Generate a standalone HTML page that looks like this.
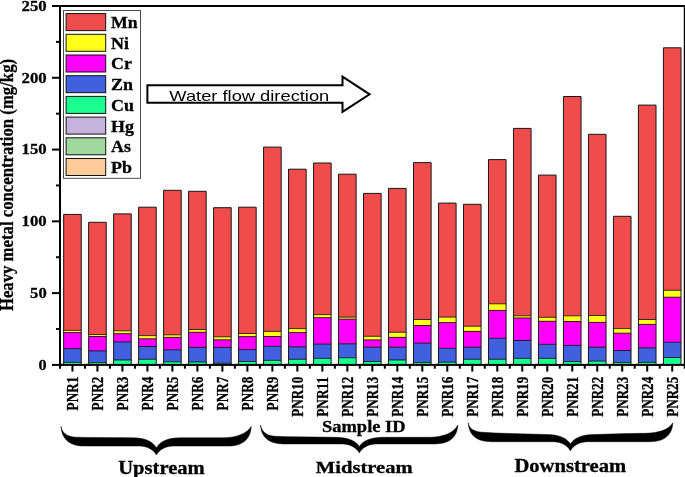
<!DOCTYPE html>
<html><head><meta charset="utf-8"><title>Heavy metal concentration</title>
<style>html,body{margin:0;padding:0;background:#fff}svg{display:block}text{fill:#000}.s{font-family:"Liberation Serif",serif;font-weight:bold;stroke:#000;stroke-width:0.3px}.h{font-family:"Liberation Sans",sans-serif}</style></head><body>
<svg width="685" height="477" viewBox="0 0 685 477">
<rect x="0" y="0" width="685" height="477" fill="#fff"/>
<g><rect x="63.65" y="214.40" width="17.60" height="116.00" fill="#F14C4C"/><rect x="63.65" y="330.40" width="17.60" height="2.20" fill="#FFFF1A"/><rect x="63.65" y="332.60" width="17.60" height="16.10" fill="#FF00FF"/><rect x="63.65" y="348.70" width="17.60" height="13.70" fill="#4060E0"/><rect x="63.65" y="362.40" width="17.60" height="2.50" fill="#1AFF90"/><rect x="61.05" y="362.9" width="2.1" height="1.1" fill="#FFCC99"/><rect x="88.64" y="222.30" width="17.60" height="112.20" fill="#F14C4C"/><rect x="88.64" y="334.50" width="17.60" height="2.00" fill="#FFFF1A"/><rect x="88.64" y="336.50" width="17.60" height="14.40" fill="#FF00FF"/><rect x="88.64" y="350.90" width="17.60" height="11.80" fill="#4060E0"/><rect x="88.64" y="362.70" width="17.60" height="2.20" fill="#1AFF90"/><rect x="86.04" y="362.9" width="2.1" height="1.1" fill="#FFCC99"/><rect x="113.63" y="213.90" width="17.60" height="116.90" fill="#F14C4C"/><rect x="113.63" y="330.80" width="17.60" height="2.90" fill="#FFFF1A"/><rect x="113.63" y="333.70" width="17.60" height="8.20" fill="#FF00FF"/><rect x="113.63" y="341.90" width="17.60" height="18.10" fill="#4060E0"/><rect x="113.63" y="360.00" width="17.60" height="4.90" fill="#1AFF90"/><rect x="111.03" y="362.9" width="2.1" height="1.1" fill="#FFCC99"/><rect x="138.62" y="207.20" width="17.60" height="128.40" fill="#F14C4C"/><rect x="138.62" y="335.60" width="17.60" height="3.20" fill="#FFFF1A"/><rect x="138.62" y="338.80" width="17.60" height="7.70" fill="#FF00FF"/><rect x="138.62" y="346.50" width="17.60" height="12.80" fill="#4060E0"/><rect x="138.62" y="359.30" width="17.60" height="5.60" fill="#1AFF90"/><rect x="136.02" y="362.9" width="2.1" height="1.1" fill="#FFCC99"/><rect x="163.61" y="190.30" width="17.60" height="144.50" fill="#F14C4C"/><rect x="163.61" y="334.80" width="17.60" height="2.60" fill="#FFFF1A"/><rect x="163.61" y="337.40" width="17.60" height="12.40" fill="#FF00FF"/><rect x="163.61" y="349.80" width="17.60" height="12.00" fill="#4060E0"/><rect x="163.61" y="361.80" width="17.60" height="3.10" fill="#1AFF90"/><rect x="161.01" y="362.9" width="2.1" height="1.1" fill="#FFCC99"/><rect x="188.60" y="191.30" width="17.60" height="138.20" fill="#F14C4C"/><rect x="188.60" y="329.50" width="17.60" height="2.80" fill="#FFFF1A"/><rect x="188.60" y="332.30" width="17.60" height="15.10" fill="#FF00FF"/><rect x="188.60" y="347.40" width="17.60" height="14.60" fill="#4060E0"/><rect x="188.60" y="362.00" width="17.60" height="2.90" fill="#1AFF90"/><rect x="186.00" y="362.9" width="2.1" height="1.1" fill="#FFCC99"/><rect x="213.59" y="207.70" width="17.60" height="129.10" fill="#F14C4C"/><rect x="213.59" y="336.80" width="17.60" height="3.00" fill="#FFFF1A"/><rect x="213.59" y="339.80" width="17.60" height="7.60" fill="#FF00FF"/><rect x="213.59" y="347.40" width="17.60" height="15.90" fill="#4060E0"/><rect x="213.59" y="363.30" width="17.60" height="1.60" fill="#1AFF90"/><rect x="210.99" y="362.9" width="2.1" height="1.1" fill="#FFCC99"/><rect x="238.58" y="207.20" width="17.60" height="126.30" fill="#F14C4C"/><rect x="238.58" y="333.50" width="17.60" height="3.10" fill="#FFFF1A"/><rect x="238.58" y="336.60" width="17.60" height="13.00" fill="#FF00FF"/><rect x="238.58" y="349.60" width="17.60" height="11.90" fill="#4060E0"/><rect x="238.58" y="361.50" width="17.60" height="3.40" fill="#1AFF90"/><rect x="235.98" y="362.9" width="2.1" height="1.1" fill="#FFCC99"/><rect x="263.57" y="147.10" width="17.60" height="184.30" fill="#F14C4C"/><rect x="263.57" y="331.40" width="17.60" height="5.10" fill="#FFFF1A"/><rect x="263.57" y="336.50" width="17.60" height="9.80" fill="#FF00FF"/><rect x="263.57" y="346.30" width="17.60" height="14.10" fill="#4060E0"/><rect x="263.57" y="360.40" width="17.60" height="4.50" fill="#1AFF90"/><rect x="260.97" y="362.9" width="2.1" height="1.1" fill="#FFCC99"/><rect x="288.56" y="169.20" width="17.60" height="159.40" fill="#F14C4C"/><rect x="288.56" y="328.60" width="17.60" height="4.00" fill="#FFFF1A"/><rect x="288.56" y="332.60" width="17.60" height="14.30" fill="#FF00FF"/><rect x="288.56" y="346.90" width="17.60" height="12.40" fill="#4060E0"/><rect x="288.56" y="359.30" width="17.60" height="5.60" fill="#1AFF90"/><rect x="285.96" y="362.9" width="2.1" height="1.1" fill="#FFCC99"/><rect x="313.55" y="163.00" width="17.60" height="151.60" fill="#F14C4C"/><rect x="313.55" y="314.60" width="17.60" height="3.10" fill="#FFFF1A"/><rect x="313.55" y="317.70" width="17.60" height="26.40" fill="#FF00FF"/><rect x="313.55" y="344.10" width="17.60" height="14.30" fill="#4060E0"/><rect x="313.55" y="358.40" width="17.60" height="6.50" fill="#1AFF90"/><rect x="310.95" y="362.9" width="2.1" height="1.1" fill="#FFCC99"/><rect x="338.54" y="174.20" width="17.60" height="142.90" fill="#F14C4C"/><rect x="338.54" y="317.10" width="17.60" height="2.00" fill="#FFFF1A"/><rect x="338.54" y="319.10" width="17.60" height="24.70" fill="#FF00FF"/><rect x="338.54" y="343.80" width="17.60" height="14.00" fill="#4060E0"/><rect x="338.54" y="357.80" width="17.60" height="7.10" fill="#1AFF90"/><rect x="335.94" y="362.9" width="2.1" height="1.1" fill="#FFCC99"/><rect x="363.53" y="193.40" width="17.60" height="142.90" fill="#F14C4C"/><rect x="363.53" y="336.30" width="17.60" height="3.60" fill="#FFFF1A"/><rect x="363.53" y="339.90" width="17.60" height="7.30" fill="#FF00FF"/><rect x="363.53" y="347.20" width="17.60" height="14.30" fill="#4060E0"/><rect x="363.53" y="361.50" width="17.60" height="3.40" fill="#1AFF90"/><rect x="360.93" y="362.9" width="2.1" height="1.1" fill="#FFCC99"/><rect x="388.52" y="188.40" width="17.60" height="143.90" fill="#F14C4C"/><rect x="388.52" y="332.30" width="17.60" height="5.10" fill="#FFFF1A"/><rect x="388.52" y="337.40" width="17.60" height="9.80" fill="#FF00FF"/><rect x="388.52" y="347.20" width="17.60" height="12.80" fill="#4060E0"/><rect x="388.52" y="360.00" width="17.60" height="4.90" fill="#1AFF90"/><rect x="385.92" y="362.9" width="2.1" height="1.1" fill="#FFCC99"/><rect x="413.51" y="162.60" width="17.60" height="156.90" fill="#F14C4C"/><rect x="413.51" y="319.50" width="17.60" height="6.00" fill="#FFFF1A"/><rect x="413.51" y="325.50" width="17.60" height="17.70" fill="#FF00FF"/><rect x="413.51" y="343.20" width="17.60" height="19.40" fill="#4060E0"/><rect x="413.51" y="362.60" width="17.60" height="2.30" fill="#1AFF90"/><rect x="410.91" y="362.9" width="2.1" height="1.1" fill="#FFCC99"/><rect x="438.50" y="203.10" width="17.60" height="114.00" fill="#F14C4C"/><rect x="438.50" y="317.10" width="17.60" height="5.50" fill="#FFFF1A"/><rect x="438.50" y="322.60" width="17.60" height="25.70" fill="#FF00FF"/><rect x="438.50" y="348.30" width="17.60" height="13.90" fill="#4060E0"/><rect x="438.50" y="362.20" width="17.60" height="2.70" fill="#1AFF90"/><rect x="435.90" y="362.9" width="2.1" height="1.1" fill="#FFCC99"/><rect x="463.49" y="204.30" width="17.60" height="121.90" fill="#F14C4C"/><rect x="463.49" y="326.20" width="17.60" height="5.20" fill="#FFFF1A"/><rect x="463.49" y="331.40" width="17.60" height="15.80" fill="#FF00FF"/><rect x="463.49" y="347.20" width="17.60" height="12.10" fill="#4060E0"/><rect x="463.49" y="359.30" width="17.60" height="5.60" fill="#1AFF90"/><rect x="460.89" y="362.9" width="2.1" height="1.1" fill="#FFCC99"/><rect x="488.48" y="159.60" width="17.60" height="144.20" fill="#F14C4C"/><rect x="488.48" y="303.80" width="17.60" height="6.60" fill="#FFFF1A"/><rect x="488.48" y="310.40" width="17.60" height="27.90" fill="#FF00FF"/><rect x="488.48" y="338.30" width="17.60" height="21.00" fill="#4060E0"/><rect x="488.48" y="359.30" width="17.60" height="5.60" fill="#1AFF90"/><rect x="485.88" y="362.9" width="2.1" height="1.1" fill="#FFCC99"/><rect x="513.47" y="128.40" width="17.60" height="187.40" fill="#F14C4C"/><rect x="513.47" y="315.80" width="17.60" height="2.20" fill="#FFFF1A"/><rect x="513.47" y="318.00" width="17.60" height="22.50" fill="#FF00FF"/><rect x="513.47" y="340.50" width="17.60" height="17.90" fill="#4060E0"/><rect x="513.47" y="358.40" width="17.60" height="6.50" fill="#1AFF90"/><rect x="510.87" y="362.9" width="2.1" height="1.1" fill="#FFCC99"/><rect x="538.46" y="175.10" width="17.60" height="142.20" fill="#F14C4C"/><rect x="538.46" y="317.30" width="17.60" height="4.00" fill="#FFFF1A"/><rect x="538.46" y="321.30" width="17.60" height="23.00" fill="#FF00FF"/><rect x="538.46" y="344.30" width="17.60" height="14.10" fill="#4060E0"/><rect x="538.46" y="358.40" width="17.60" height="6.50" fill="#1AFF90"/><rect x="535.86" y="362.9" width="2.1" height="1.1" fill="#FFCC99"/><rect x="563.45" y="96.50" width="17.60" height="219.30" fill="#F14C4C"/><rect x="563.45" y="315.80" width="17.60" height="5.70" fill="#FFFF1A"/><rect x="563.45" y="321.50" width="17.60" height="23.90" fill="#FF00FF"/><rect x="563.45" y="345.40" width="17.60" height="16.20" fill="#4060E0"/><rect x="563.45" y="361.60" width="17.60" height="3.30" fill="#1AFF90"/><rect x="560.85" y="362.9" width="2.1" height="1.1" fill="#FFCC99"/><rect x="588.44" y="134.30" width="17.60" height="181.20" fill="#F14C4C"/><rect x="588.44" y="315.50" width="17.60" height="6.90" fill="#FFFF1A"/><rect x="588.44" y="322.40" width="17.60" height="24.80" fill="#FF00FF"/><rect x="588.44" y="347.20" width="17.60" height="13.90" fill="#4060E0"/><rect x="588.44" y="361.10" width="17.60" height="3.80" fill="#1AFF90"/><rect x="585.84" y="362.9" width="2.1" height="1.1" fill="#FFCC99"/><rect x="613.43" y="216.30" width="17.60" height="112.30" fill="#F14C4C"/><rect x="613.43" y="328.60" width="17.60" height="4.60" fill="#FFFF1A"/><rect x="613.43" y="333.20" width="17.60" height="17.30" fill="#FF00FF"/><rect x="613.43" y="350.50" width="17.60" height="12.10" fill="#4060E0"/><rect x="613.43" y="362.60" width="17.60" height="2.30" fill="#1AFF90"/><rect x="610.83" y="362.9" width="2.1" height="1.1" fill="#FFCC99"/><rect x="638.42" y="105.10" width="17.60" height="214.40" fill="#F14C4C"/><rect x="638.42" y="319.50" width="17.60" height="4.90" fill="#FFFF1A"/><rect x="638.42" y="324.40" width="17.60" height="23.40" fill="#FF00FF"/><rect x="638.42" y="347.80" width="17.60" height="14.60" fill="#4060E0"/><rect x="638.42" y="362.40" width="17.60" height="2.50" fill="#1AFF90"/><rect x="635.82" y="362.9" width="2.1" height="1.1" fill="#FFCC99"/><rect x="663.41" y="47.80" width="17.60" height="242.50" fill="#F14C4C"/><rect x="663.41" y="290.30" width="17.60" height="6.90" fill="#FFFF1A"/><rect x="663.41" y="297.20" width="17.60" height="45.10" fill="#FF00FF"/><rect x="663.41" y="342.30" width="17.60" height="15.20" fill="#4060E0"/><rect x="663.41" y="357.50" width="17.60" height="7.40" fill="#1AFF90"/><rect x="660.81" y="362.9" width="2.1" height="1.1" fill="#FFCC99"/></g>
<path d="M63.65,330.40h17.60M63.65,332.60h17.60M63.65,348.70h17.60M63.65,362.40h17.60M88.64,334.50h17.60M88.64,336.50h17.60M88.64,350.90h17.60M88.64,362.70h17.60M113.63,330.80h17.60M113.63,333.70h17.60M113.63,341.90h17.60M113.63,360.00h17.60M138.62,335.60h17.60M138.62,338.80h17.60M138.62,346.50h17.60M138.62,359.30h17.60M163.61,334.80h17.60M163.61,337.40h17.60M163.61,349.80h17.60M163.61,361.80h17.60M188.60,329.50h17.60M188.60,332.30h17.60M188.60,347.40h17.60M188.60,362.00h17.60M213.59,336.80h17.60M213.59,339.80h17.60M213.59,347.40h17.60M213.59,363.30h17.60M238.58,333.50h17.60M238.58,336.60h17.60M238.58,349.60h17.60M238.58,361.50h17.60M263.57,331.40h17.60M263.57,336.50h17.60M263.57,346.30h17.60M263.57,360.40h17.60M288.56,328.60h17.60M288.56,332.60h17.60M288.56,346.90h17.60M288.56,359.30h17.60M313.55,314.60h17.60M313.55,317.70h17.60M313.55,344.10h17.60M313.55,358.40h17.60M338.54,317.10h17.60M338.54,319.10h17.60M338.54,343.80h17.60M338.54,357.80h17.60M363.53,336.30h17.60M363.53,339.90h17.60M363.53,347.20h17.60M363.53,361.50h17.60M388.52,332.30h17.60M388.52,337.40h17.60M388.52,347.20h17.60M388.52,360.00h17.60M413.51,319.50h17.60M413.51,325.50h17.60M413.51,343.20h17.60M413.51,362.60h17.60M438.50,317.10h17.60M438.50,322.60h17.60M438.50,348.30h17.60M438.50,362.20h17.60M463.49,326.20h17.60M463.49,331.40h17.60M463.49,347.20h17.60M463.49,359.30h17.60M488.48,303.80h17.60M488.48,310.40h17.60M488.48,338.30h17.60M488.48,359.30h17.60M513.47,315.80h17.60M513.47,318.00h17.60M513.47,340.50h17.60M513.47,358.40h17.60M538.46,317.30h17.60M538.46,321.30h17.60M538.46,344.30h17.60M538.46,358.40h17.60M563.45,315.80h17.60M563.45,321.50h17.60M563.45,345.40h17.60M563.45,361.60h17.60M588.44,315.50h17.60M588.44,322.40h17.60M588.44,347.20h17.60M588.44,361.10h17.60M613.43,328.60h17.60M613.43,333.20h17.60M613.43,350.50h17.60M613.43,362.60h17.60M638.42,319.50h17.60M638.42,324.40h17.60M638.42,347.80h17.60M638.42,362.40h17.60M663.41,290.30h17.60M663.41,297.20h17.60M663.41,342.30h17.60M663.41,357.50h17.60" fill="none" stroke="#000" stroke-width="0.8"/>
<path d="M63.65,364.9V214.40h17.60V364.9M88.64,364.9V222.30h17.60V364.9M113.63,364.9V213.90h17.60V364.9M138.62,364.9V207.20h17.60V364.9M163.61,364.9V190.30h17.60V364.9M188.60,364.9V191.30h17.60V364.9M213.59,364.9V207.70h17.60V364.9M238.58,364.9V207.20h17.60V364.9M263.57,364.9V147.10h17.60V364.9M288.56,364.9V169.20h17.60V364.9M313.55,364.9V163.00h17.60V364.9M338.54,364.9V174.20h17.60V364.9M363.53,364.9V193.40h17.60V364.9M388.52,364.9V188.40h17.60V364.9M413.51,364.9V162.60h17.60V364.9M438.50,364.9V203.10h17.60V364.9M463.49,364.9V204.30h17.60V364.9M488.48,364.9V159.60h17.60V364.9M513.47,364.9V128.40h17.60V364.9M538.46,364.9V175.10h17.60V364.9M563.45,364.9V96.50h17.60V364.9M588.44,364.9V134.30h17.60V364.9M613.43,364.9V216.30h17.60V364.9M638.42,364.9V105.10h17.60V364.9M663.41,364.9V47.80h17.60V364.9" fill="none" stroke="#161616" stroke-width="1" stroke-linejoin="round"/>
<rect x="60.0" y="6.0" width="624.80" height="358.90" fill="none" stroke="#000" stroke-width="2"/>
<g stroke="#000" stroke-width="2">
<line x1="52.0" y1="364.90" x2="60.0" y2="364.90"/>
<line x1="56.0" y1="329.01" x2="60.0" y2="329.01"/>
<line x1="52.0" y1="293.12" x2="60.0" y2="293.12"/>
<line x1="56.0" y1="257.23" x2="60.0" y2="257.23"/>
<line x1="52.0" y1="221.34" x2="60.0" y2="221.34"/>
<line x1="56.0" y1="185.45" x2="60.0" y2="185.45"/>
<line x1="52.0" y1="149.56" x2="60.0" y2="149.56"/>
<line x1="56.0" y1="113.67" x2="60.0" y2="113.67"/>
<line x1="52.0" y1="77.78" x2="60.0" y2="77.78"/>
<line x1="56.0" y1="41.89" x2="60.0" y2="41.89"/>
<line x1="52.0" y1="6.00" x2="60.0" y2="6.00"/>
<line x1="72.45" y1="364.9" x2="72.45" y2="371.6"/>
<line x1="84.95" y1="364.9" x2="84.95" y2="368.7"/>
<line x1="97.44" y1="364.9" x2="97.44" y2="371.6"/>
<line x1="109.94" y1="364.9" x2="109.94" y2="368.7"/>
<line x1="122.43" y1="364.9" x2="122.43" y2="371.6"/>
<line x1="134.93" y1="364.9" x2="134.93" y2="368.7"/>
<line x1="147.42" y1="364.9" x2="147.42" y2="371.6"/>
<line x1="159.92" y1="364.9" x2="159.92" y2="368.7"/>
<line x1="172.41" y1="364.9" x2="172.41" y2="371.6"/>
<line x1="184.91" y1="364.9" x2="184.91" y2="368.7"/>
<line x1="197.40" y1="364.9" x2="197.40" y2="371.6"/>
<line x1="209.89" y1="364.9" x2="209.89" y2="368.7"/>
<line x1="222.39" y1="364.9" x2="222.39" y2="371.6"/>
<line x1="234.88" y1="364.9" x2="234.88" y2="368.7"/>
<line x1="247.38" y1="364.9" x2="247.38" y2="371.6"/>
<line x1="259.88" y1="364.9" x2="259.88" y2="368.7"/>
<line x1="272.37" y1="364.9" x2="272.37" y2="371.6"/>
<line x1="284.87" y1="364.9" x2="284.87" y2="368.7"/>
<line x1="297.36" y1="364.9" x2="297.36" y2="371.6"/>
<line x1="309.86" y1="364.9" x2="309.86" y2="368.7"/>
<line x1="322.35" y1="364.9" x2="322.35" y2="371.6"/>
<line x1="334.84" y1="364.9" x2="334.84" y2="368.7"/>
<line x1="347.34" y1="364.9" x2="347.34" y2="371.6"/>
<line x1="359.83" y1="364.9" x2="359.83" y2="368.7"/>
<line x1="372.33" y1="364.9" x2="372.33" y2="371.6"/>
<line x1="384.82" y1="364.9" x2="384.82" y2="368.7"/>
<line x1="397.32" y1="364.9" x2="397.32" y2="371.6"/>
<line x1="409.81" y1="364.9" x2="409.81" y2="368.7"/>
<line x1="422.31" y1="364.9" x2="422.31" y2="371.6"/>
<line x1="434.80" y1="364.9" x2="434.80" y2="368.7"/>
<line x1="447.30" y1="364.9" x2="447.30" y2="371.6"/>
<line x1="459.79" y1="364.9" x2="459.79" y2="368.7"/>
<line x1="472.29" y1="364.9" x2="472.29" y2="371.6"/>
<line x1="484.78" y1="364.9" x2="484.78" y2="368.7"/>
<line x1="497.28" y1="364.9" x2="497.28" y2="371.6"/>
<line x1="509.77" y1="364.9" x2="509.77" y2="368.7"/>
<line x1="522.27" y1="364.9" x2="522.27" y2="371.6"/>
<line x1="534.76" y1="364.9" x2="534.76" y2="368.7"/>
<line x1="547.26" y1="364.9" x2="547.26" y2="371.6"/>
<line x1="559.75" y1="364.9" x2="559.75" y2="368.7"/>
<line x1="572.25" y1="364.9" x2="572.25" y2="371.6"/>
<line x1="584.75" y1="364.9" x2="584.75" y2="368.7"/>
<line x1="597.24" y1="364.9" x2="597.24" y2="371.6"/>
<line x1="609.74" y1="364.9" x2="609.74" y2="368.7"/>
<line x1="622.23" y1="364.9" x2="622.23" y2="371.6"/>
<line x1="634.73" y1="364.9" x2="634.73" y2="368.7"/>
<line x1="647.22" y1="364.9" x2="647.22" y2="371.6"/>
<line x1="659.72" y1="364.9" x2="659.72" y2="368.7"/>
<line x1="672.21" y1="364.9" x2="672.21" y2="371.6"/>
<line x1="60.0" y1="364.9" x2="60.0" y2="368.7"/>
<line x1="684.8" y1="364.9" x2="684.8" y2="368.7"/>
</g>
<text class="s" x="46.7" y="369.80" font-size="15.4" text-anchor="end" textLength="8.10" lengthAdjust="spacingAndGlyphs">0</text>
<text class="s" x="46.7" y="298.02" font-size="15.4" text-anchor="end" textLength="16.60" lengthAdjust="spacingAndGlyphs">50</text>
<text class="s" x="46.7" y="226.24" font-size="15.4" text-anchor="end" textLength="25.10" lengthAdjust="spacingAndGlyphs">100</text>
<text class="s" x="46.7" y="154.46" font-size="15.4" text-anchor="end" textLength="25.10" lengthAdjust="spacingAndGlyphs">150</text>
<text class="s" x="46.7" y="82.68" font-size="15.4" text-anchor="end" textLength="25.10" lengthAdjust="spacingAndGlyphs">200</text>
<text class="s" x="46.7" y="10.90" font-size="15.4" text-anchor="end" textLength="25.10" lengthAdjust="spacingAndGlyphs">250</text>
<text class="s" transform="translate(12.9,311.1) rotate(-90)" font-size="18.4" textLength="252.2" lengthAdjust="spacingAndGlyphs">Heavy metal concentration (mg/kg)</text>
<rect x="63.5" y="10.5" width="77.0" height="167.8" fill="#fff" stroke="#4a4a4a" stroke-width="1"/>
<rect x="66.1" y="13.60" width="39.6" height="17.0" fill="#F14C4C" stroke="#111" stroke-width="1"/>
<text class="s" x="111.0" y="28.00" font-size="15.9" textLength="26.6" lengthAdjust="spacingAndGlyphs">Mn</text>
<rect x="66.1" y="34.30" width="39.6" height="17.0" fill="#FFFF1A" stroke="#111" stroke-width="1"/>
<text class="s" x="111.0" y="48.70" font-size="15.9" textLength="17.9" lengthAdjust="spacingAndGlyphs">Ni</text>
<rect x="66.1" y="55.00" width="39.6" height="17.0" fill="#FF00FF" stroke="#111" stroke-width="1"/>
<text class="s" x="111.0" y="69.40" font-size="15.9" textLength="20.9" lengthAdjust="spacingAndGlyphs">Cr</text>
<rect x="66.1" y="75.70" width="39.6" height="17.0" fill="#4060E0" stroke="#111" stroke-width="1"/>
<text class="s" x="111.0" y="90.10" font-size="15.9" textLength="21.9" lengthAdjust="spacingAndGlyphs">Zn</text>
<rect x="66.1" y="96.40" width="39.6" height="17.0" fill="#1AFF90" stroke="#111" stroke-width="1"/>
<text class="s" x="111.0" y="110.80" font-size="15.9" textLength="22.9" lengthAdjust="spacingAndGlyphs">Cu</text>
<rect x="66.1" y="117.10" width="39.6" height="17.0" fill="#C5B3DC" stroke="#111" stroke-width="1"/>
<text class="s" x="111.0" y="131.50" font-size="15.9" textLength="22.9" lengthAdjust="spacingAndGlyphs">Hg</text>
<rect x="66.1" y="137.80" width="39.6" height="17.0" fill="#A0D8A0" stroke="#111" stroke-width="1"/>
<text class="s" x="111.0" y="152.20" font-size="15.9" textLength="19.9" lengthAdjust="spacingAndGlyphs">As</text>
<rect x="66.1" y="158.50" width="39.6" height="17.0" fill="#FFCC99" stroke="#111" stroke-width="1"/>
<text class="s" x="111.0" y="172.90" font-size="15.9" textLength="20.9" lengthAdjust="spacingAndGlyphs">Pb</text>
<polygon points="147.4,85.2 342.5,85.2 342.5,76.7 369.6,94.3 342.5,111.9 342.5,102.7 147.4,102.7" fill="#fff" stroke="#000" stroke-width="2" stroke-linejoin="miter"/>
<text class="h" x="169.3" y="101.0" font-size="14.3" textLength="160" lengthAdjust="spacingAndGlyphs">Water flow direction</text>
<text class="s" transform="translate(77.95,376.8) rotate(-90)" font-size="16.6" text-anchor="end" textLength="33.6" lengthAdjust="spacingAndGlyphs">PNR1</text>
<text class="s" transform="translate(102.94,376.8) rotate(-90)" font-size="16.6" text-anchor="end" textLength="33.6" lengthAdjust="spacingAndGlyphs">PNR2</text>
<text class="s" transform="translate(127.93,376.8) rotate(-90)" font-size="16.6" text-anchor="end" textLength="33.6" lengthAdjust="spacingAndGlyphs">PNR3</text>
<text class="s" transform="translate(152.92,376.8) rotate(-90)" font-size="16.6" text-anchor="end" textLength="33.6" lengthAdjust="spacingAndGlyphs">PNR4</text>
<text class="s" transform="translate(177.91,376.8) rotate(-90)" font-size="16.6" text-anchor="end" textLength="33.6" lengthAdjust="spacingAndGlyphs">PNR5</text>
<text class="s" transform="translate(202.90,376.8) rotate(-90)" font-size="16.6" text-anchor="end" textLength="33.6" lengthAdjust="spacingAndGlyphs">PNR6</text>
<text class="s" transform="translate(227.89,376.8) rotate(-90)" font-size="16.6" text-anchor="end" textLength="33.6" lengthAdjust="spacingAndGlyphs">PNR7</text>
<text class="s" transform="translate(252.88,376.8) rotate(-90)" font-size="16.6" text-anchor="end" textLength="33.6" lengthAdjust="spacingAndGlyphs">PNR8</text>
<text class="s" transform="translate(277.87,376.8) rotate(-90)" font-size="16.6" text-anchor="end" textLength="33.6" lengthAdjust="spacingAndGlyphs">PNR9</text>
<text class="s" transform="translate(302.86,376.8) rotate(-90)" font-size="16.6" text-anchor="end" textLength="40.0" lengthAdjust="spacingAndGlyphs">PNR10</text>
<text class="s" transform="translate(327.85,376.8) rotate(-90)" font-size="16.6" text-anchor="end" textLength="40.0" lengthAdjust="spacingAndGlyphs">PNR11</text>
<text class="s" transform="translate(352.84,376.8) rotate(-90)" font-size="16.6" text-anchor="end" textLength="40.0" lengthAdjust="spacingAndGlyphs">PNR12</text>
<text class="s" transform="translate(377.83,376.8) rotate(-90)" font-size="16.6" text-anchor="end" textLength="40.0" lengthAdjust="spacingAndGlyphs">PNR13</text>
<text class="s" transform="translate(402.82,376.8) rotate(-90)" font-size="16.6" text-anchor="end" textLength="40.0" lengthAdjust="spacingAndGlyphs">PNR14</text>
<text class="s" transform="translate(427.81,376.8) rotate(-90)" font-size="16.6" text-anchor="end" textLength="40.0" lengthAdjust="spacingAndGlyphs">PNR15</text>
<text class="s" transform="translate(452.80,376.8) rotate(-90)" font-size="16.6" text-anchor="end" textLength="40.0" lengthAdjust="spacingAndGlyphs">PNR16</text>
<text class="s" transform="translate(477.79,376.8) rotate(-90)" font-size="16.6" text-anchor="end" textLength="40.0" lengthAdjust="spacingAndGlyphs">PNR17</text>
<text class="s" transform="translate(502.78,376.8) rotate(-90)" font-size="16.6" text-anchor="end" textLength="40.0" lengthAdjust="spacingAndGlyphs">PNR18</text>
<text class="s" transform="translate(527.77,376.8) rotate(-90)" font-size="16.6" text-anchor="end" textLength="40.0" lengthAdjust="spacingAndGlyphs">PNR19</text>
<text class="s" transform="translate(552.76,376.8) rotate(-90)" font-size="16.6" text-anchor="end" textLength="40.0" lengthAdjust="spacingAndGlyphs">PNR20</text>
<text class="s" transform="translate(577.75,376.8) rotate(-90)" font-size="16.6" text-anchor="end" textLength="40.0" lengthAdjust="spacingAndGlyphs">PNR21</text>
<text class="s" transform="translate(602.74,376.8) rotate(-90)" font-size="16.6" text-anchor="end" textLength="40.0" lengthAdjust="spacingAndGlyphs">PNR22</text>
<text class="s" transform="translate(627.73,376.8) rotate(-90)" font-size="16.6" text-anchor="end" textLength="40.0" lengthAdjust="spacingAndGlyphs">PNR23</text>
<text class="s" transform="translate(652.72,376.8) rotate(-90)" font-size="16.6" text-anchor="end" textLength="40.0" lengthAdjust="spacingAndGlyphs">PNR24</text>
<text class="s" transform="translate(677.71,376.8) rotate(-90)" font-size="16.6" text-anchor="end" textLength="40.0" lengthAdjust="spacingAndGlyphs">PNR25</text>
<text class="s" x="322" y="431.6" font-size="16.6" textLength="83.6" lengthAdjust="spacingAndGlyphs">Sample ID</text>
<path d="M61.1,426.4 C61.6,431.4 65.6,436.59999999999997 75.4,437.2 L88.1,437.41 L132.4,437.8 C146.4,437.8 153.4,442.3 156.4,448.0 C159.4,442.3 166.4,437.8 180.4,437.8 L206.2,437.80 L224.2,437.8 C237.2,437.3 247.2,433.3 251.2,426.4 C250.7,437.4 244.2,446.0 228.2,446.0 L173.4,446.0 C165.4,446.0 158.9,450.0 156.4,455.0 C153.9,450.0 147.4,446.0 139.4,446.0 L84.1,446.0 C68.1,446.0 61.6,437.4 61.1,426.4 Z" fill="#000" stroke="#000" stroke-width="0.5" stroke-linejoin="round"/>
<path d="M260.6,425.0 C261.1,430.0 265.1,435.7 274.90000000000003,436.3 L287.6,436.65 L335.3,437.3 C349.3,437.3 356.3,441.8 359.3,446.4 C362.3,441.8 369.3,437.3 383.3,437.3 L412.8,437.30 L430.8,437.3 C443.8,436.8 453.8,432.8 457.8,425.0 C457.3,436.0 450.8,443.9 434.8,443.9 L376.3,443.9 C368.3,443.9 361.8,447.9 359.3,453.0 C356.8,447.9 350.3,443.9 342.3,443.9 L283.6,443.9 C267.6,443.9 261.1,436.0 260.6,425.0 Z" fill="#000" stroke="#000" stroke-width="0.5" stroke-linejoin="round"/>
<path d="M468.3,422.8 C468.8,427.8 472.8,431.7 482.6,432.3 L495.3,433.07 L546.4,434.5 C560.4,434.5 567.4,439.0 570.4,444.0 C573.4,439.0 580.4,434.5 594.4,434.5 L627.8,433.54 L645.8,433.3 C658.8,432.8 668.8,430.0 672.8,422.8 C672.3,433.8 665.8,441.7 649.8,441.7 L587.4,441.7 C579.4,441.7 572.9,445.7 570.4,450.9 C567.9,445.7 561.4,441.7 553.4,441.7 L491.3,441.7 C475.3,441.7 468.8,433.8 468.3,422.8 Z" fill="#000" stroke="#000" stroke-width="0.5" stroke-linejoin="round"/>
<text class="s" x="118.2" y="473.5" font-size="18.2" textLength="86.6" lengthAdjust="spacingAndGlyphs">Upstream</text>
<text class="s" x="315.8" y="473.1" font-size="17.5" textLength="96.8" lengthAdjust="spacingAndGlyphs">Midstream</text>
<text class="s" x="514.4" y="471.8" font-size="18.0" textLength="111.8" lengthAdjust="spacingAndGlyphs">Downstream</text>
</svg></body></html>
